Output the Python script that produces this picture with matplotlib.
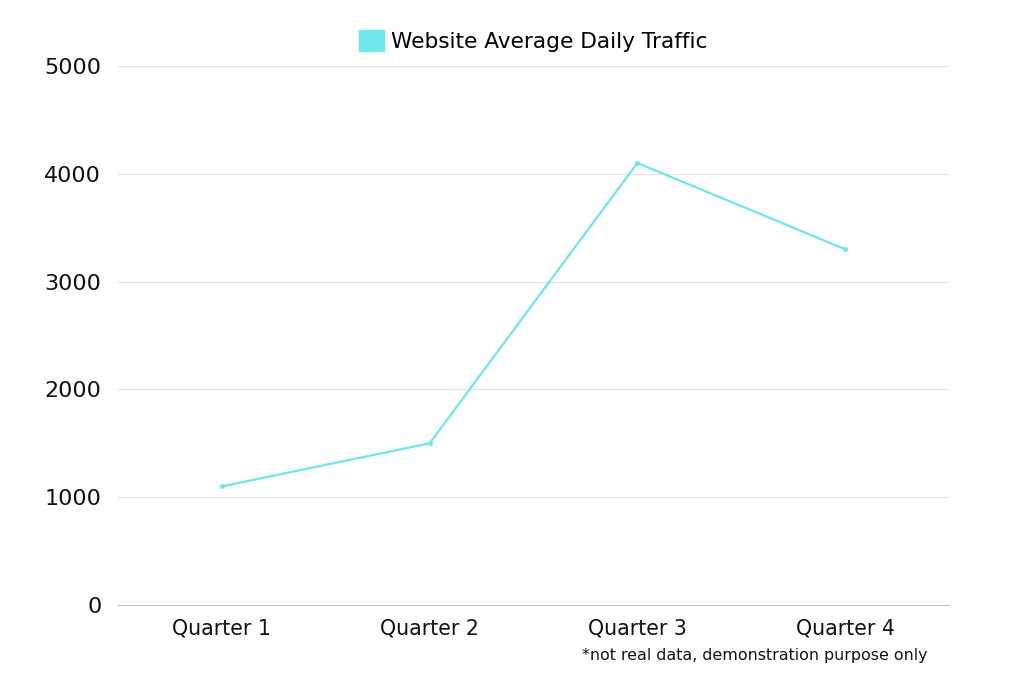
import matplotlib.pyplot as plt
from matplotlib.patches import Patch

quarters = ["Quarter 1", "Quarter 2", "Quarter 3", "Quarter 4"]
traffic = [1100, 1500, 4100, 3300]
yticks = [0, 1000, 2000, 3000, 4000, 5000]

LINE_COLOR = "#6ee6ea"
FONT = ["DejaVu Sans"]


def main():
    plt.rcParams["font.family"] = FONT
    fig = plt.figure(figsize=(10.24, 6.83), dpi=100)
    ax = fig.add_axes([0.1152, 0.1142, 0.8116, 0.7892])

    x = list(range(len(quarters)))
    ax.plot(x, traffic, color=LINE_COLOR, linewidth=1.6,
            marker="o", markersize=2.5, label="Website Average Daily Traffic")

    ax.set_xlim(-0.5, len(quarters) - 0.5)
    ax.set_ylim(0, 5000)
    ax.set_yticks(yticks)
    ax.set_xticks(x)
    ax.set_xticklabels(quarters)

    ax.grid(axis="y", color="#e3e3e3", linewidth=0.9)
    ax.set_axisbelow(True)
    for side in ("top", "right", "left"):
        ax.spines[side].set_visible(False)
    ax.spines["bottom"].set_color("#c8c8c8")
    ax.tick_params(axis="both", length=0, colors="#111111")
    ax.tick_params(axis="y", pad=12, labelsize=16)
    ax.tick_params(axis="x", pad=10, labelsize=14.8)

    handle = Patch(facecolor=LINE_COLOR, edgecolor=LINE_COLOR)
    ax.legend([handle], ["Website Average Daily Traffic"], loc="lower center",
              bbox_to_anchor=(0.5, 0.99), frameon=False, fontsize=15.6,
              handlelength=1.15, handleheight=1.15, handletextpad=0.32)

    fig.text(0.906, 0.04, "*not real data, demonstration purpose only",
             ha="right", va="center", fontsize=11.4, color="#111111")

    fig.savefig("out.png", dpi=100)


if __name__ == '__main__':
    main()
